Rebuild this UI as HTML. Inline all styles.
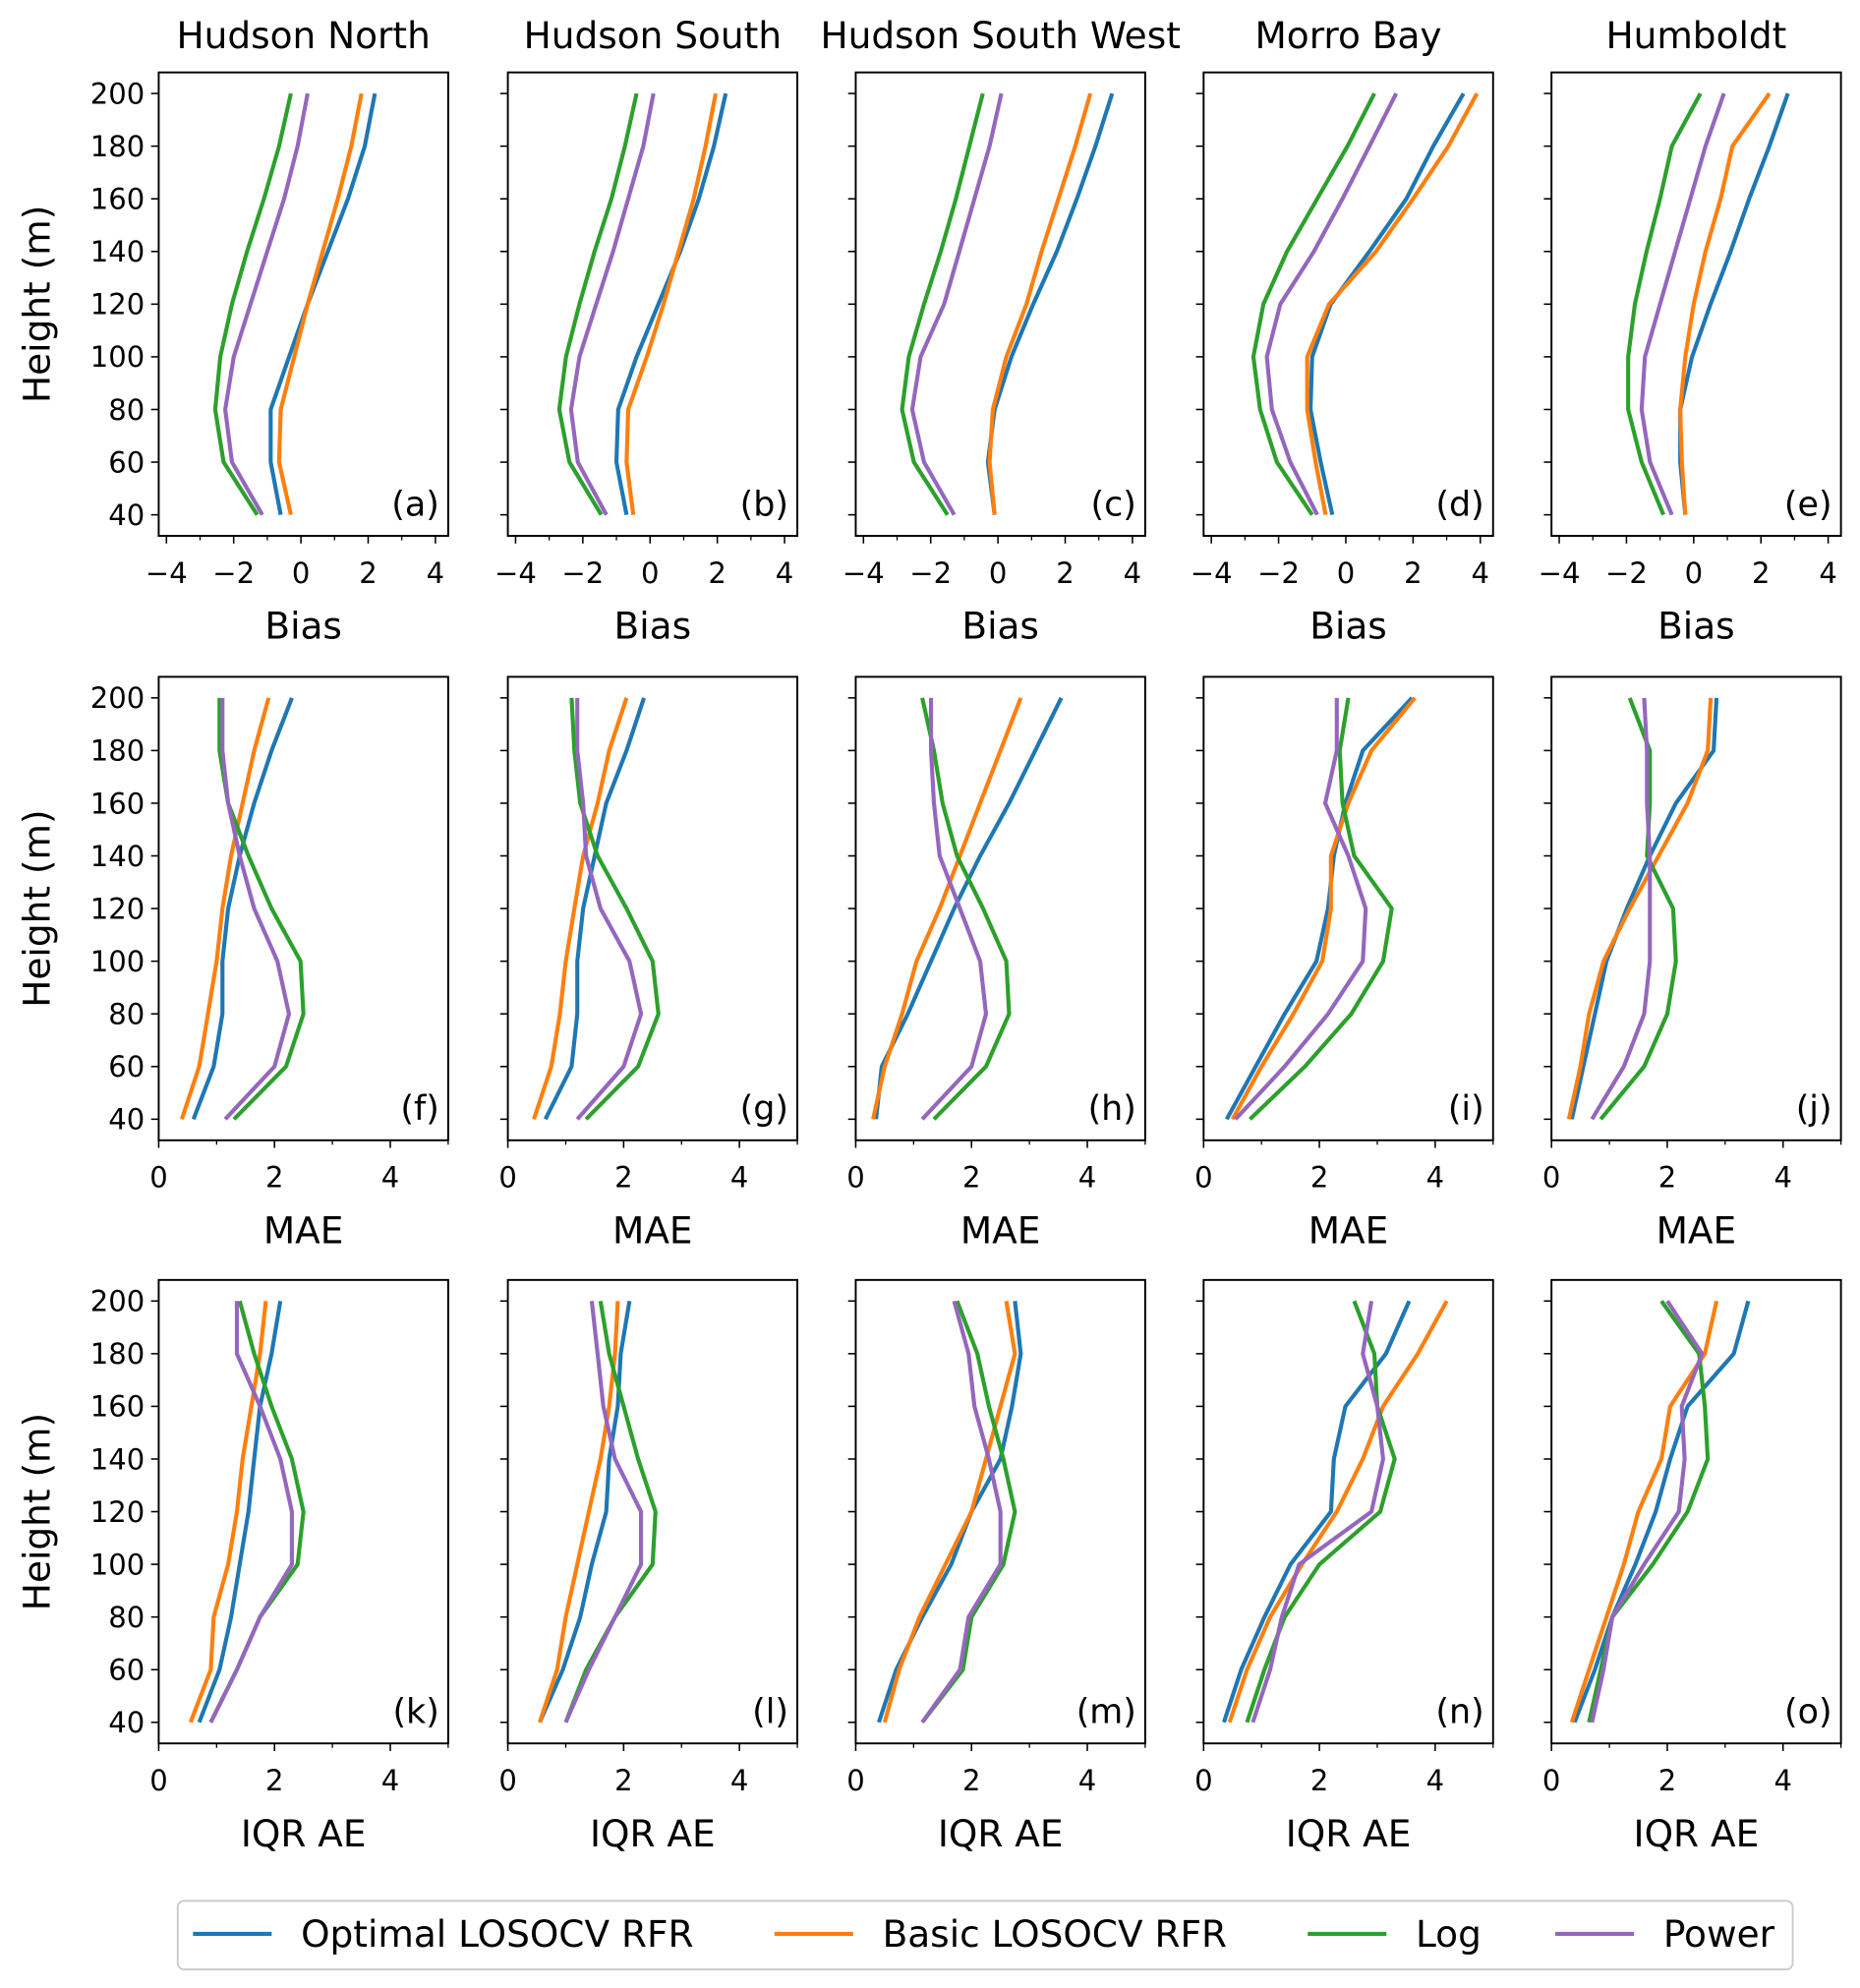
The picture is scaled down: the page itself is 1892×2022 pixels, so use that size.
<!DOCTYPE html>
<html><head><meta charset="utf-8"><style>
html,body{margin:0;padding:0;background:#fff;}
svg{display:block;font-family:"DejaVu Sans","Liberation Sans",sans-serif;}
</style></head><body>
<svg id="chart" width="1892" height="2022" viewBox="0 0 1465 1565.6" xmlns="http://www.w3.org/2000/svg"></svg>
<script>
const heights = [40,60,80,100,120,140,160,180,200];
const sites = ["Hudson North","Hudson South","Hudson South West","Morro Bay","Humboldt"];
const metrics = ["Bias","MAE","IQR AE"];
const seriesNames = ["Optimal LOSOCV RFR","Basic LOSOCV RFR","Log","Power"];
const biasHN = [[-0.6,-0.9,-0.9,-0.35,0.2,0.8,1.4,1.9,2.2],[-0.3,-0.65,-0.6,-0.2,0.2,0.65,1.1,1.5,1.8],[-1.3,-2.3,-2.55,-2.4,-2.05,-1.6,-1.1,-0.65,-0.3],[-1.15,-2.05,-2.25,-2.0,-1.5,-1.0,-0.5,-0.1,0.2]];
const biasHS = [[-0.7,-1.0,-0.95,-0.4,0.25,0.9,1.45,1.9,2.25],[-0.5,-0.7,-0.65,-0.1,0.4,0.85,1.3,1.65,1.95],[-1.45,-2.4,-2.7,-2.5,-2.1,-1.65,-1.15,-0.75,-0.4],[-1.3,-2.15,-2.35,-2.1,-1.6,-1.1,-0.65,-0.2,0.1]];
const biasHSW = [[-0.1,-0.3,-0.1,0.4,1.05,1.75,2.35,2.9,3.4],[-0.1,-0.25,-0.15,0.25,0.85,1.3,1.8,2.3,2.75],[-1.5,-2.5,-2.85,-2.65,-2.2,-1.7,-1.25,-0.85,-0.45],[-1.3,-2.2,-2.55,-2.3,-1.6,-1.15,-0.7,-0.25,0.1]];
const biasMB = [[-0.4,-0.75,-1.05,-1.0,-0.45,0.7,1.8,2.6,3.5],[-0.6,-0.9,-1.15,-1.15,-0.5,0.9,2.0,3.05,3.9],[-1.0,-2.05,-2.55,-2.75,-2.45,-1.75,-0.85,0.05,0.85],[-0.85,-1.65,-2.2,-2.35,-1.95,-0.95,-0.1,0.7,1.5]];
const biasHU = [[-0.25,-0.4,-0.4,-0.05,0.5,1.1,1.65,2.25,2.8],[-0.25,-0.35,-0.4,-0.25,0,0.35,0.8,1.15,2.25],[-0.9,-1.55,-1.95,-1.95,-1.75,-1.4,-1.0,-0.65,0.2],[-0.65,-1.3,-1.55,-1.45,-1.0,-0.55,-0.1,0.35,0.9]];
const maeHN = [[0.6,0.95,1.1,1.1,1.2,1.4,1.65,1.95,2.3],[0.4,0.7,0.85,1.0,1.1,1.25,1.45,1.65,1.9],[1.3,2.2,2.5,2.45,1.95,1.55,1.2,1.05,1.05],[1.15,2.0,2.25,2.05,1.65,1.4,1.2,1.1,1.1]];
const maeHS = [[0.65,1.1,1.2,1.2,1.3,1.5,1.7,2.05,2.35],[0.45,0.75,0.9,1.0,1.15,1.3,1.55,1.75,2.05],[1.35,2.25,2.6,2.5,2.05,1.55,1.25,1.15,1.1],[1.2,2.0,2.3,2.1,1.6,1.35,1.3,1.2,1.2]];
const maeHSW = [[0.35,0.45,0.9,1.3,1.7,2.15,2.65,3.1,3.55],[0.3,0.5,0.8,1.05,1.45,1.8,2.15,2.5,2.85],[1.35,2.25,2.65,2.6,2.2,1.75,1.5,1.35,1.15],[1.15,2.0,2.25,2.15,1.8,1.45,1.35,1.3,1.3]];
const maeMB = [[0.4,0.9,1.4,1.95,2.15,2.25,2.45,2.75,3.6],[0.5,1.0,1.55,2.05,2.2,2.2,2.5,2.9,3.65],[0.8,1.75,2.55,3.1,3.25,2.6,2.4,2.35,2.5],[0.55,1.4,2.15,2.75,2.8,2.5,2.1,2.3,2.3]];
const maeHU = [[0.35,0.55,0.75,0.95,1.3,1.7,2.15,2.8,2.85],[0.3,0.5,0.65,0.9,1.35,1.85,2.35,2.7,2.75],[0.85,1.6,2.0,2.15,2.1,1.65,1.7,1.7,1.35],[0.7,1.25,1.6,1.7,1.7,1.7,1.65,1.65,1.6]];
const iqrHN = [[0.7,1.05,1.25,1.4,1.55,1.65,1.75,1.95,2.1],[0.55,0.9,0.95,1.2,1.35,1.45,1.6,1.75,1.85],[0.9,1.35,1.75,2.4,2.5,2.3,1.95,1.65,1.4],[0.9,1.35,1.75,2.3,2.3,2.1,1.75,1.35,1.35]];
const iqrHS = [[0.55,0.95,1.25,1.45,1.7,1.75,1.9,1.95,2.1],[0.55,0.85,1.0,1.2,1.4,1.6,1.75,1.85,1.9],[1.0,1.35,1.85,2.5,2.55,2.25,2.0,1.75,1.6],[1.0,1.4,1.85,2.3,2.3,1.85,1.65,1.55,1.45]];
const iqrHSW = [[0.4,0.7,1.15,1.65,2.0,2.5,2.7,2.85,2.75],[0.5,0.75,1.1,1.55,2.0,2.25,2.5,2.75,2.6],[1.15,1.85,2.0,2.55,2.75,2.55,2.3,2.1,1.75],[1.15,1.8,1.95,2.5,2.5,2.3,2.05,1.95,1.7]];
const iqrMB = [[0.35,0.65,1.05,1.5,2.2,2.25,2.45,3.15,3.55],[0.45,0.75,1.15,1.7,2.3,2.75,3.1,3.7,4.2],[0.75,1.05,1.4,2.0,3.05,3.3,3.0,2.95,2.6],[0.85,1.15,1.35,1.65,2.9,3.1,3.0,2.75,2.9]];
const iqrHU = [[0.4,0.75,1.05,1.45,1.8,2.05,2.35,3.15,3.4],[0.35,0.65,0.95,1.25,1.5,1.9,2.05,2.65,2.85],[0.65,0.85,1.05,1.75,2.35,2.7,2.65,2.55,1.9],[0.7,0.9,1.05,1.6,2.2,2.3,2.25,2.6,2.0]];
const panelData = [[biasHN,biasHS,biasHSW,biasMB,biasHU],[maeHN,maeHS,maeHSW,maeMB,maeHU],[iqrHN,iqrHS,iqrHSW,iqrMB,iqrHU]];
const yTicks = [40,60,80,100,120,140,160,180,200];
const biasTicks = [-4,-2,0,2,4];
const errTicks = [0,2,4];
const letters = "abcdefghijklmno";

const colors = ["#1f77b4","#ff7f0e","#2ca02c","#9467bd"];
const NS="http://www.w3.org/2000/svg";
const svg=document.getElementById('chart');
function mk(tag,attrs,parent){const e=document.createElementNS(NS,tag);for(const k in attrs)e.setAttribute(k,attrs[k]);(parent||svg).appendChild(e);return e;}
const colX=[125,400,674,948,1222], W=228;
const rowY=[57,533,1008], H=365;
const yMin=32, yMax=208;
for(let r=0;r<3;r++){
  for(let c=0;c<5;c++){
    const x0=colX[c], y0=rowY[r];
    const g=mk('g',{});
    
    
    const xlim = r===0?[-4.23,4.38]:[0,5];
    const sx=v=>x0+(v-xlim[0])/(xlim[1]-xlim[0])*W;
    const sy=v=>y0+H-(v-yMin)/(yMax-yMin)*H;
    yTicks.forEach(t=>{
      mk('line',{x1:x0-6,x2:x0,y1:sy(t),y2:sy(t),stroke:'#000','stroke-width':1.2},g);
      if(c===0){const tx=mk('text',{x:x0-11,y:sy(t)+8,'text-anchor':'end','font-size':22.5},g);tx.textContent=t;
        }
    });
    const ticks=r===0?biasTicks:errTicks;
    const minor=r===0?[-3,-1,1,3]:[1,3,5];
    ticks.forEach(t=>{
      mk('line',{x1:sx(t),x2:sx(t),y1:y0+H,y2:y0+H+6,stroke:'#000','stroke-width':1.2},g);
      const tx=mk('text',{x:sx(t),y:y0+H+37,'text-anchor':'middle','font-size':22.5},g);
      tx.textContent=t<0?'\u2212'+(-t):t;
      
    });
    minor.forEach(t=>mk('line',{x1:sx(t),x2:sx(t),y1:y0+H,y2:y0+H+3.5,stroke:'#000','stroke-width':1},g));
    panelData[r][c].forEach((vals,si)=>{
      const pts=vals.map((v,i)=>sx(v).toFixed(1)+','+sy(heights[i]).toFixed(1)).join(' ');
      const pl=mk('polyline',{points:pts,fill:'none',stroke:colors[si],'stroke-width':3.2,'stroke-linejoin':'round'},g);
      
      
    });
    mk('rect',{x:x0,y:y0,width:W,height:H,fill:'none',stroke:'#000','stroke-width':1.5},g);
    const lt=mk('text',{x:x0+W-7,y:y0+H-16,'text-anchor':'end','font-size':27},g);
    lt.textContent='('+letters[r*5+c]+')';
    
    const xl=mk('text',{x:x0+W/2,y:y0+H+81,'text-anchor':'middle','font-size':29},g);
    xl.textContent=metrics[r];
    
    if(r===0){const tt=mk('text',{x:x0+W/2,y:38,'text-anchor':'middle','font-size':29},g);tt.textContent=sites[c];
      }
    if(c===0){const yl=mk('text',{x:0,y:0,'text-anchor':'middle','font-size':29,transform:`translate(39,${y0+H/2}) rotate(-90)`},g);yl.textContent='Height (m)';
      }
  }
}
const lg=mk('g',{});


mk('rect',{x:140,y:1497,width:1272,height:54,rx:5,fill:'#fff',stroke:'#ccc','stroke-width':1.5},lg);
const lx=[152,610,1030,1225];
seriesNames.forEach((n,i)=>{
  const e=mk('g',{},lg);
  
  
  mk('line',{x1:lx[i],x2:lx[i]+62,y1:1523,y2:1523,stroke:colors[i],'stroke-width':3.2},e);
  const t=mk('text',{x:lx[i]+85,y:1533,'font-size':29},e);t.textContent=n;
});
</script>
</body></html>
